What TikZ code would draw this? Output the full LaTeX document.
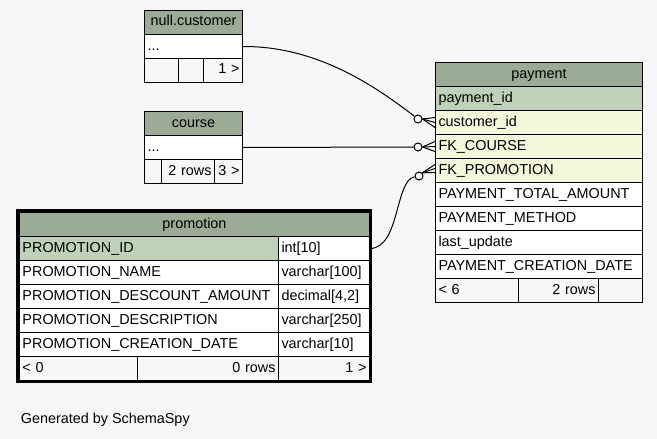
\documentclass[tikz,border=0pt]{standalone}
\usepackage{fontspec}
\setmainfont{Liberation Sans}
\usepackage{xcolor}
\usepackage{tikz}
\definecolor{headgreen}{RGB}{155,171,150}
\definecolor{pkgreen}{RGB}{191,209,184}
\definecolor{fkyellow}{RGB}{244,247,218}
\definecolor{canvas}{RGB}{247,247,247}
\hyphenpenalty=10000
\tikzset{
    Cell/.style = {draw,fill=#1,anchor=north west,inner xsep=3pt,inner ysep=0pt,
        minimum height=24pt,text height=10pt,text depth=3pt,align=left,
        font=\fontsize{14.4}{16}\selectfont},
    Cell/.default = white,
    Head/.style = {Cell=headgreen,align=center},
    Foot/.style = {Cell=canvas},
    FkEnd/.style = {draw,circle,fill=white,inner sep=0pt,minimum size=8pt}
}
\begin{document}
\begin{tikzpicture}[x=1pt,y=-1pt,line width=1pt]
        \fill[canvas] (0,0) rectangle (657,439);
        \useasboundingbox (0,0) rectangle (657,439);
        % null.customer
        \node[Head,text width=92pt] (cust-head) at (144,10) {null.customer};
        \node[Cell,text width=92pt] (cust-dots) at (144,34) {...};
        \node[Foot,text width=28pt] (cust-f1) at (144,58) {};
        \node[Foot,text width=19pt] (cust-f2) at (178,58) {};
        \node[Foot,text width=33pt,align=right] (cust-f3) at (203,58) {1 >};
        % course
        \node[Head,text width=92pt] (course-head) at (144,111) {course};
        \node[Cell,text width=92pt] (course-dots) at (144,135) {...};
        \node[Foot,text width=11pt] (course-f1) at (144,159) {};
        \node[Foot,text width=47pt,align=right] (course-f2) at (161,159) {2 rows};
        \node[Foot,text width=22pt,align=right] (course-f3) at (214,159) {3 >};
        % payment
        \node[Head,text width=201pt] (pay-head) at (435,62) {payment};
        \foreach \txt/\clr/\tag [count=\i] in {payment\_id/pkgreen/id,
            customer\_id/fkyellow/cust, FK\_COURSE/fkyellow/course,
            FK\_PROMOTION/fkyellow/promo, PAYMENT\_TOTAL\_AMOUNT/white/total,
            PAYMENT\_METHOD/white/method, last\_update/white/update,
            PAYMENT\_CREATION\_DATE/white/date}
            {\node[Cell=\clr,text width=201pt] (pay-\tag) at (435,62+24*\i) {\txt};}
        \node[Foot,text width=77pt] (pay-f1) at (435,278) {< 6};
        \node[Foot,text width=74pt,align=right] (pay-f2) at (518,278) {2 rows};
        \node[Foot,text width=38pt] (pay-f3) at (598,278) {};
        % promotion
        \node[Head,text width=344pt] (promo-head) at (19,212) {promotion};
        \foreach \txt/\typ/\clr/\tag [count=\i] in {PROMOTION\_ID/int[10]/pkgreen/id,
            PROMOTION\_NAME/varchar[100]/white/name,
            PROMOTION\_DESCOUNT\_AMOUNT/{decimal[4,2]}/white/amount,
            PROMOTION\_DESCRIPTION/varchar[250]/white/descr,
            PROMOTION\_CREATION\_DATE/varchar[10]/white/date}
            {\node[Cell=\clr,text width=253pt] (promo-\tag) at (19,212+24*\i) {\txt};
             \node[Cell,text width=85pt] (promo-\tag-type) at (278,212+24*\i) {\typ};}
        \node[Foot,text width=112pt] (promo-f1) at (19,356) {< 0};
        \node[Foot,text width=135pt,align=right] (promo-f2) at (137,356) {0 rows};
        \node[Foot,text width=85pt,align=right] (promo-f3) at (278,356) {1 >};
        \draw[line width=3pt] (17.5,210.5) rectangle (370.5,381.5);
        % relations
        \node[FkEnd] (end-cust) at (418,119) {};
        \node[FkEnd] (end-course) at (418,147) {};
        \node[FkEnd] (end-promo) at (419,176) {};
        \draw (cust-dots.east) .. controls (320,46) and (380,90) .. (end-cust);
        \draw (course-dots.east) -- (end-course);
        \draw (promo-id-type.east) .. controls (400,248) and (395,180) .. (end-promo);
        \foreach \t in {cust,course}
            {\foreach \s in {5,0,-5}
                {\draw (end-\t.east) -- ([yshift=\s pt]pay-\t.west);}}
        \foreach \s in {6,2,-2}
            {\draw (end-promo.north east) -- ([yshift=\s pt]pay-promo.west);}
        \node[anchor=base west,font=\fontsize{14.4}{16}\selectfont] (credit) at (17,423)
            {Generated by SchemaSpy};
\end{tikzpicture}
\end{document}
